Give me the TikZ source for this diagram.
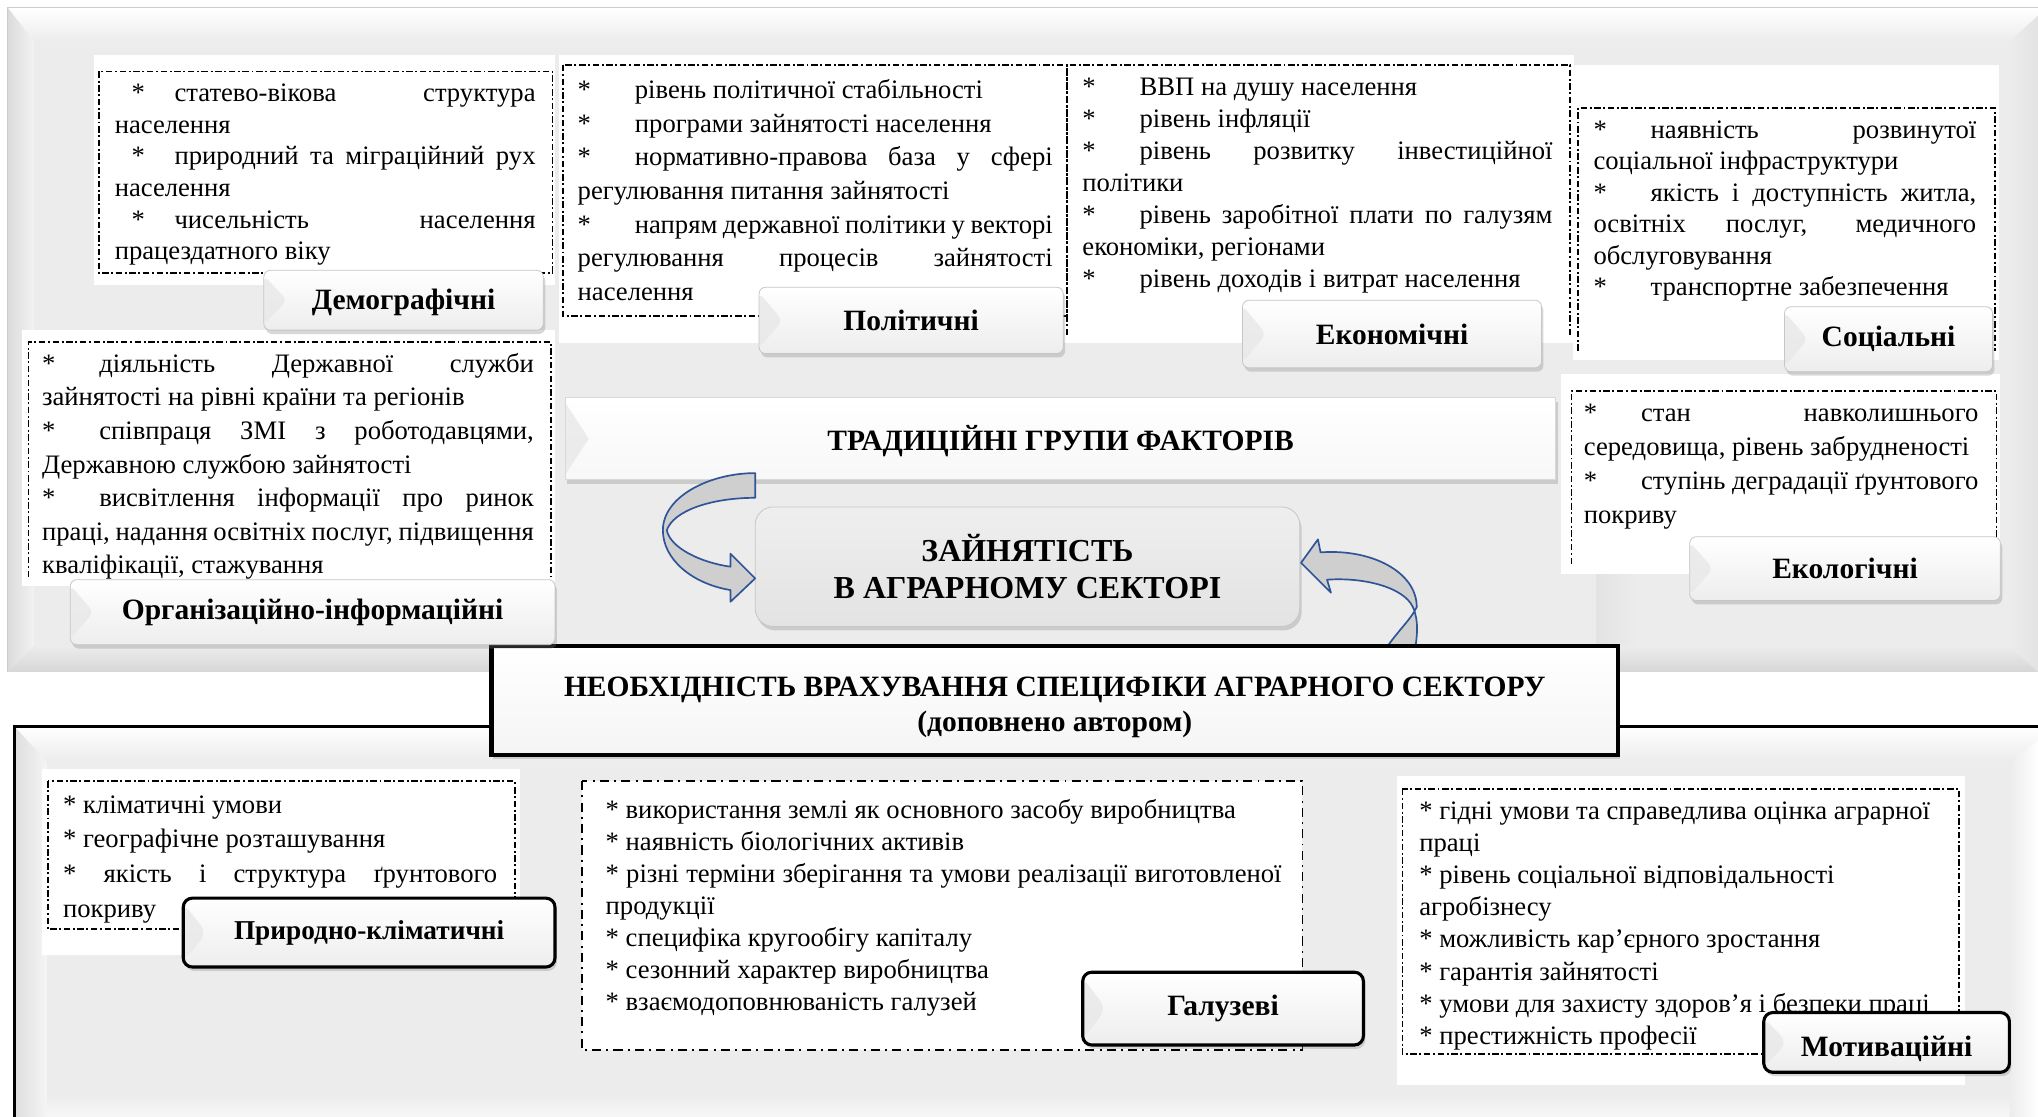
\documentclass[tikz,border=0pt]{standalone}
\usepackage{fontspec}
\setmainfont{Liberation Serif}
\usetikzlibrary{shadows}
\definecolor{panel}{HTML}{ECECEC}
\definecolor{arrowblue}{HTML}{2F5597}
\newlength{\jw}
\newcommand{\jl}[1]{\makebox[\jw][s]{#1}}
\newcommand{\tabast}{\makebox[44pt][l]{*}}
\newcommand{\demast}{\hspace*{13pt}\makebox[33pt][l]{*}}
\newcommand{\bstar}{*}
\newcommand{\tblock}[4]{\parbox[t]{\dimexpr#2+10pt\relax}{\setlength{\jw}{#2}\fontsize{#1}{#3}\selectfont\raggedright #4}}
\newcommand{\lblfont}{\bfseries\fontsize{22.7pt}{27pt}\selectfont}
\begin{document}
\begin{tikzpicture}[x=1pt,y=-1pt,
  txt/.style={anchor=base west, inner sep=0pt, outer sep=0pt},
  dbox/.style={draw=black, line width=1.3pt, dash pattern=on 5pt off 2pt on 1.5pt off 2pt},
  dboxg/.style={draw=black, line width=1.3pt, dash pattern=on 7pt off 4pt on 1.5pt off 4pt},
  bevtri/.style={path picture={\fill[gray!18, opacity=0.8] ([yshift=-4pt]path picture bounding box.north west) -- ([xshift=18pt]path picture bounding box.west) -- ([yshift=4pt]path picture bounding box.south west) -- cycle;}},
  shad/.style={drop shadow={shadow xshift=1.5pt, shadow yshift=-3pt, opacity=0.3}},
  btn/.style={rectangle, rounded corners=5pt, draw=gray!45, line width=0.6pt, top color=white, bottom color=gray!14, shad, bevtri, font=\lblfont, inner sep=0pt, align=center},
  btnb/.style={btn, draw=black, line width=2.4pt, rounded corners=7pt},
  barrow/.style={draw=arrowblue, line width=1.3pt, fill=gray!38, line join=round}
]
\useasboundingbox (0,0) rectangle (1568,859);
\clip (0,0) rectangle (1568,859);
\fill[white] (0,0) rectangle (1568,859);

% ---------- top panel ----------
\fill[panel] (6,6) rectangle (1580,517);
\shade[top color=white, bottom color=panel] (6,6) -- (1580,6) -- (1560,32) -- (26,32) -- cycle;
\shade[left color=gray!28, right color=gray!10] (6,6) -- (26,32) -- (26,497) -- (6,517) -- cycle;
\shade[left color=panel, right color=gray!22] (1546,32) -- (1568,12) -- (1568,517) -- (1546,497) -- cycle;
\shade[top color=panel, bottom color=gray!32] (26,497) -- (1546,497) -- (1568,517) -- (6,517) -- cycle;
\shade[left color=gray!22, right color=panel] (1228,440) rectangle (1260,497);
\draw[gray!40, line width=0.6pt] (6,517) -- (6,6) -- (1580,6);

% ---------- bottom panel ----------
\fill[panel] (11,559) rectangle (1580,870);
\shade[top color=white, bottom color=panel] (11,559) -- (1580,559) -- (1580,586) -- (36,586) -- cycle;
\shade[left color=gray!26, right color=gray!8] (11,559) -- (36,586) -- (36,870) -- (11,870) -- cycle;
\shade[left color=panel, right color=white] (1546,586) -- (1568,570) -- (1568,870) -- (1546,870) -- cycle;
\shade[top color=panel, bottom color=white] (36,843) -- (1546,843) -- (1546,870) -- (36,870) -- cycle;
\draw[black, line width=2.5pt] (11,875) -- (11,559) -- (1580,559);

% ---------- white backings ----------
\fill[white] (72,42) rectangle (427,219);
\fill[white] (430,42) rectangle (1211,264);
\fill[white] (1210,50) rectangle (1538,277);
\fill[white] (17,254) rectangle (427,451);
\fill[white] (1201,288) rectangle (1539,442);
\fill[white] (32,592) rectangle (400,735);
\fill[white] (1075,597) rectangle (1512,835);

% ---------- dashed boxes ----------
\draw[dbox] (76,55) rectangle (425,210);
\draw[dbox] (433,50) rectangle (821,243);
\draw[dbox] (821,258) -- (821,50) -- (1208,50) -- (1208,258);
\draw[dbox] (1214,270) -- (1214,83) -- (1535,83) -- (1535,270);
\draw[dbox] (22,444) -- (22,263) -- (424,263) -- (424,444);
\draw[dbox] (1209,434) -- (1209,301) -- (1536,301) -- (1536,434);
\draw[dbox] (37,601) rectangle (396,715);
\draw[dboxg, fill=white] (448,601) rectangle (1002,808);
\draw[dbox] (1079,607) rectangle (1507,811);

% ---------- text blocks ----------
\node[txt] (demoT) at (88.3,78) {\tblock{20.5pt}{323.8pt}{24.4pt}{%
\jl{\demast статево-вікова структура}\\
населення\\
\jl{\demast природний та міграційний рух}\\
населення\\
\jl{\demast чисельність населення}\\
працездатного віку}};

\node[txt] (politT) at (444.5,76) {\tblock{20.5pt}{365.5pt}{25.85pt}{%
\tabast рівень політичної стабільності\\
\tabast програми зайнятості населення\\
\jl{\tabast нормативно-правова база у сфері}\\
регулювання питання зайнятості\\
\jl{\tabast напрям державної політики у векторі}\\
\jl{регулювання процесів зайнятості}\\
населення}};

\node[txt] (econT) at (832.8,73.5) {\tblock{20.5pt}{361.7pt}{24.6pt}{%
\tabast ВВП на душу населення\\
\tabast рівень інфляції\\
\jl{\tabast рівень розвитку інвестиційної}\\
політики\\
\jl{\tabast рівень заробітної плати по галузям}\\
економіки, регіонами\\
\tabast рівень доходів і витрат населення}};

\node[txt] (socT) at (1226,106.5) {\tblock{20.5pt}{294.5pt}{24.2pt}{%
\jl{\tabast наявність розвинутої}\\
соціальної інфраструктури\\
\jl{\tabast якість і доступність житла,}\\
\jl{освітніх послуг, медичного}\\
обслуговування\\
\tabast транспортне забезпечення}};

\node[txt] (orgT) at (32.4,286.5) {\tblock{20.5pt}{378.3pt}{25.85pt}{%
\jl{\tabast діяльність Державної служби}\\
зайнятості на рівні країни та регіонів\\
\jl{\tabast співпраця ЗМІ з роботодавцями,}\\
Державною службою зайнятості\\
\jl{\tabast висвітлення інформації про ринок}\\
\jl{праці, надання освітніх послуг, підвищення}\\
кваліфікації, стажування}};

\node[txt] (ecoT) at (1218.6,324.5) {\tblock{20.5pt}{303.5pt}{26.1pt}{%
\jl{\tabast стан навколишнього}\\
середовища, рівень забрудненості\\
\jl{\tabast ступінь деградації ґрунтового}\\
покриву}};

\node[txt] (natT) at (48.5,625.5) {\tblock{20.5pt}{334pt}{26.9pt}{%
\bstar{} кліматичні умови\\
\bstar{} географічне розташування\\
\jl{\bstar{} якість і структура ґрунтового}\\
покриву}};

\node[txt] (galT) at (466,630) {\tblock{20.5pt}{520pt}{24.6pt}{%
\bstar{} використання землі як основного засобу виробництва\\
\bstar{} наявність біологічних активів\\
\jl{\bstar{} різні терміни зберігання та умови реалізації виготовленої}\\
продукції\\
\bstar{} специфіка кругообігу капіталу\\
\bstar{} сезонний характер виробництва\\
\bstar{} взаємодоповнюваність галузей}};

\node[txt] (motT) at (1092,630.5) {\tblock{20.5pt}{398pt}{24.7pt}{%
\bstar{} гідні умови та справедлива оцінка аграрної\\
праці\\
\bstar{} рівень соціальної відповідальності\\
агробізнесу\\
\bstar{} можливість кар’єрного зростання\\
\bstar{} гарантія зайнятості\\
\bstar{} умови для захисту здоров’я і безпеки праці\\
\bstar{} престижність професії}};

% ---------- central elements ----------
\node[rectangle, draw=gray!30, line width=0.5pt, top color=white, bottom color=gray!6,
  minimum width=762pt, minimum height=63pt, shad, bevtri, inner sep=0pt,
  font=\lblfont] (trad) at (816,337.5) {\raisebox{-2pt}[\height][\depth]{ТРАДИЦІЙНІ ГРУПИ ФАКТОРІВ}};

\node[rectangle, rounded corners=14pt, draw=gray!45, line width=0.6pt, top color=gray!13, bottom color=gray!22,
  minimum width=419pt, minimum height=92pt, shad, align=center, inner sep=0pt,
  font=\bfseries\fontsize{24.6pt}{29pt}\selectfont] (center) at (790.5,436) {ЗАЙНЯТІСТЬ\\В АГРАРНОМУ СЕКТОРІ};

\path[barrow] (581,364) .. controls (546,364) and (510,382) .. (510,408)
  .. controls (510,430) and (532,449) .. (562,454)
  -- (562,463) -- (581,445) -- (562,426) -- (562,436)
  .. controls (540,433) and (516,422) .. (513,408)
  .. controls (518,393) and (547,383) .. (581,383) -- cycle;

\path[barrow] (1067,498) .. controls (1075,486) and (1086,476) .. (1090,467)
  .. controls (1090,440) and (1055,422) .. (1016,425)
  -- (1014,415) -- (1001,433) -- (1024,456) -- (1021,446)
  .. controls (1050,444) and (1080,452) .. (1087,467)
  .. controls (1092,478) and (1090,490) .. (1089,498) -- cycle;

\node[rectangle, draw=black, line width=3.5pt, top color=white, bottom color=gray!8,
  minimum width=867pt, minimum height=84pt, shad, inner sep=0pt] (need) at (811.5,539) {};
\node[align=center, inner sep=0pt, font=\bfseries\fontsize{22.7pt}{27pt}\selectfont] (needT) at (811.5,544)
  {НЕОБХІДНІСТЬ ВРАХУВАННЯ СПЕЦИФІКИ АГРАРНОГО СЕКТОРУ\\(доповнено автором)};

% ---------- labels ----------
\node[btn, minimum width=215pt, minimum height=46pt] (demoL) at (310.5,231) {\raisebox{-2pt}[\height][\depth]{Демографічні}};
\node[btn, minimum width=234pt, minimum height=51pt] (politL) at (701,246.5) {Політичні};
\node[btn, minimum width=230pt, minimum height=52pt] (econL) at (1071,257) {Економічні};
\node[btn, minimum width=160pt, minimum height=50pt] (socL) at (1453,261) {Соціальні};
\node[btn, minimum width=239pt, minimum height=49pt] (ecoL) at (1419.5,437.5) {Екологічні};
\node[btn, minimum width=373pt, minimum height=50pt] (orgL) at (240.5,471) {Організаційно-інформаційні};
\node[btnb, minimum width=286pt, minimum height=53pt, font=\bfseries\fontsize{21pt}{25pt}\selectfont] (natL) at (284,717.5) {Природно-кліматичні};
\node[btnb, minimum width=216pt, minimum height=56pt] (galL) at (941,776) {Галузеві};
\node[btnb, minimum width=189pt, minimum height=46pt] (motL) at (1451.5,802) {\raisebox{-5pt}[\height][\depth]{Мотиваційні}};
\end{tikzpicture}
\end{document}
